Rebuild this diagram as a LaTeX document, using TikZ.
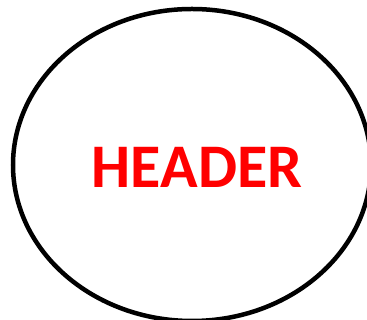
\documentclass[tikz,border=0pt]{standalone}
\usepackage{fontspec}
\setmainfont{Carlito}
\usetikzlibrary{shapes.geometric}

\begin{document}
\begin{tikzpicture}[
    x=1pt, y=1pt,
    outline/.style={
        ellipse,
        draw,
        line width=4.5pt,
        inner sep=0pt,
        minimum width=358pt,
        minimum height=312pt
    },
    title/.style={
        text=red,
        font=\fontsize{62}{62}\selectfont\bfseries
    }
]

\useasboundingbox (0,0) rectangle (367,320);

\node[outline] (header) at (192,155) {};
\node[title] (label) at (197,153) {HEADER};

\end{tikzpicture}
\end{document}
